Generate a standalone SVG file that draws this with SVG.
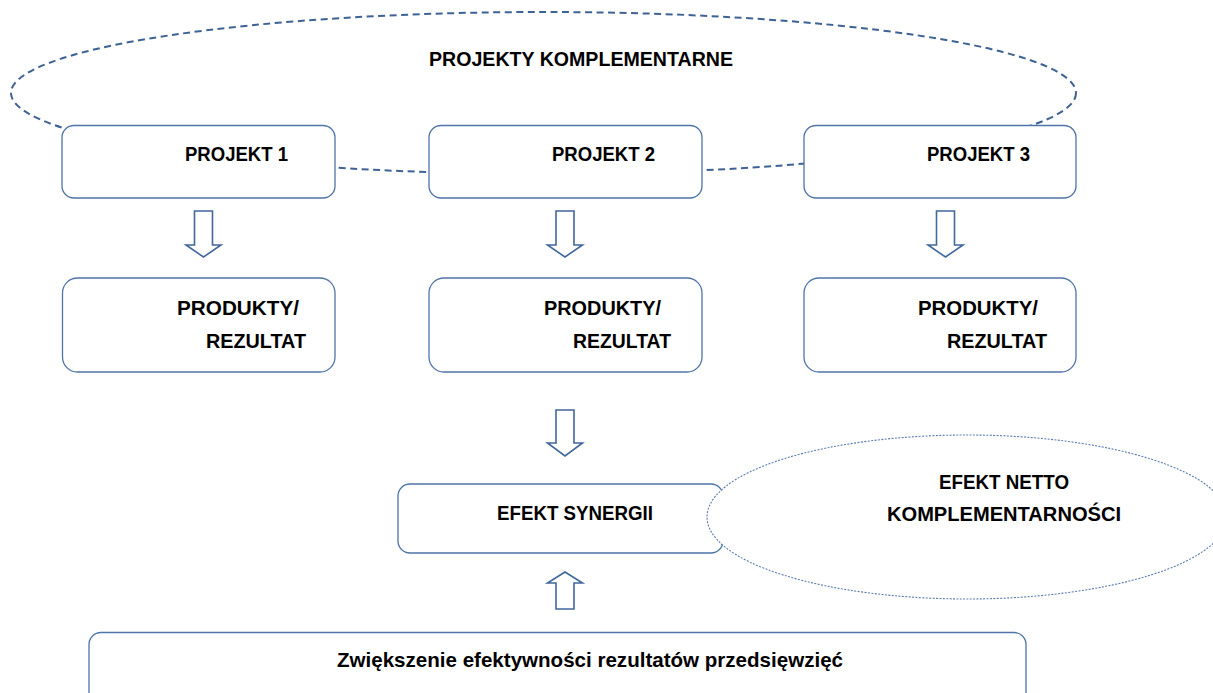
<svg xmlns="http://www.w3.org/2000/svg" width="1213" height="693" viewBox="0 0 1213 693">
<style>
.box{fill:#ffffff;stroke:#4f74a8;stroke-width:1.3}
.arrow{fill:#ffffff;stroke:#41679c;stroke-width:1.6;stroke-linejoin:miter}
.t{font-family:"Liberation Sans",Arial,sans-serif;font-weight:bold;font-size:21px;fill:#000000}
.big{fill:none;stroke:#3f6294;stroke-width:2;stroke-dasharray:7 4.5}
.dot{fill:#ffffff;stroke:#5a7cae;stroke-width:1.1;stroke-dasharray:2 1.4}
</style>
<rect width="1213" height="693" fill="#ffffff"/>
<g id="complementary-group">
<ellipse class="big" cx="543.5" cy="93" rx="532.5" ry="81"/>
<text class="t" x="429" y="66" textLength="304" lengthAdjust="spacingAndGlyphs">PROJEKTY KOMPLEMENTARNE</text>
</g>
<g id="projekt1">
<rect class="box" x="62" y="125.5" width="273" height="72.5" rx="12"/>
<text class="t" x="185" y="161" textLength="103" lengthAdjust="spacingAndGlyphs">PROJEKT 1</text>
</g>
<g id="projekt2">
<rect class="box" x="429" y="125.5" width="273" height="72.5" rx="12"/>
<text class="t" x="552" y="161" textLength="103" lengthAdjust="spacingAndGlyphs">PROJEKT 2</text>
</g>
<g id="projekt3">
<rect class="box" x="804" y="125.5" width="272" height="72.5" rx="12"/>
<text class="t" x="927" y="161" textLength="103" lengthAdjust="spacingAndGlyphs">PROJEKT 3</text>
</g>
<g id="produkty1">
<rect class="box" x="62.5" y="278" width="272.5" height="94" rx="15"/>
<text class="t" x="177" y="315" textLength="122" lengthAdjust="spacingAndGlyphs">PRODUKTY/</text>
<text class="t" x="206" y="348" textLength="100" lengthAdjust="spacingAndGlyphs">REZULTAT</text>
</g>
<g id="produkty2">
<rect class="box" x="429" y="278" width="273" height="94" rx="15"/>
<text class="t" x="544" y="315" textLength="117" lengthAdjust="spacingAndGlyphs">PRODUKTY/</text>
<text class="t" x="573" y="348" textLength="98" lengthAdjust="spacingAndGlyphs">REZULTAT</text>
</g>
<g id="produkty3">
<rect class="box" x="804" y="278" width="272" height="94" rx="15"/>
<text class="t" x="918" y="315" textLength="120" lengthAdjust="spacingAndGlyphs">PRODUKTY/</text>
<text class="t" x="947" y="348" textLength="100" lengthAdjust="spacingAndGlyphs">REZULTAT</text>
</g>
<g id="synergia">
<rect class="box" x="398" y="484" width="325" height="69" rx="12"/>
<text class="t" x="497" y="520" textLength="156" lengthAdjust="spacingAndGlyphs">EFEKT SYNERGII</text>
</g>
<g id="efekt-netto">
<ellipse class="dot" cx="967" cy="517" rx="260" ry="82"/>
<text class="t" x="939" y="489" textLength="130" lengthAdjust="spacingAndGlyphs">EFEKT NETTO</text>
<text class="t" x="887" y="521" textLength="234" lengthAdjust="spacingAndGlyphs">KOMPLEMENTARNOŚCI</text>
</g>
<g id="zwiekszenie">
<rect class="box" x="89" y="632.5" width="937" height="100" rx="12"/>
<text class="t" x="337" y="667" font-size="19" textLength="506" lengthAdjust="spacingAndGlyphs">Zwiększenie efektywności rezultatów przedsięwzięć</text>
</g>
<g id="connectors">
<polygon class="arrow" points="194.5,211 212.5,211 212.5,245 221,245 203.5,257 186,245 194.5,245"/>
<polygon class="arrow" points="556,211 574,211 574,245 582.5,245 565,257 547.5,245 556,245"/>
<polygon class="arrow" points="936.5,211 954.5,211 954.5,245 963,245 945.5,257 928,245 936.5,245"/>
<polygon class="arrow" points="556,410 574,410 574,443 582.5,443 565,456 547.5,443 556,443"/>
<polygon class="arrow" points="565,572 582.5,583 574,583 574,609 556,609 556,583 547.5,583"/>
</g>
</svg>
